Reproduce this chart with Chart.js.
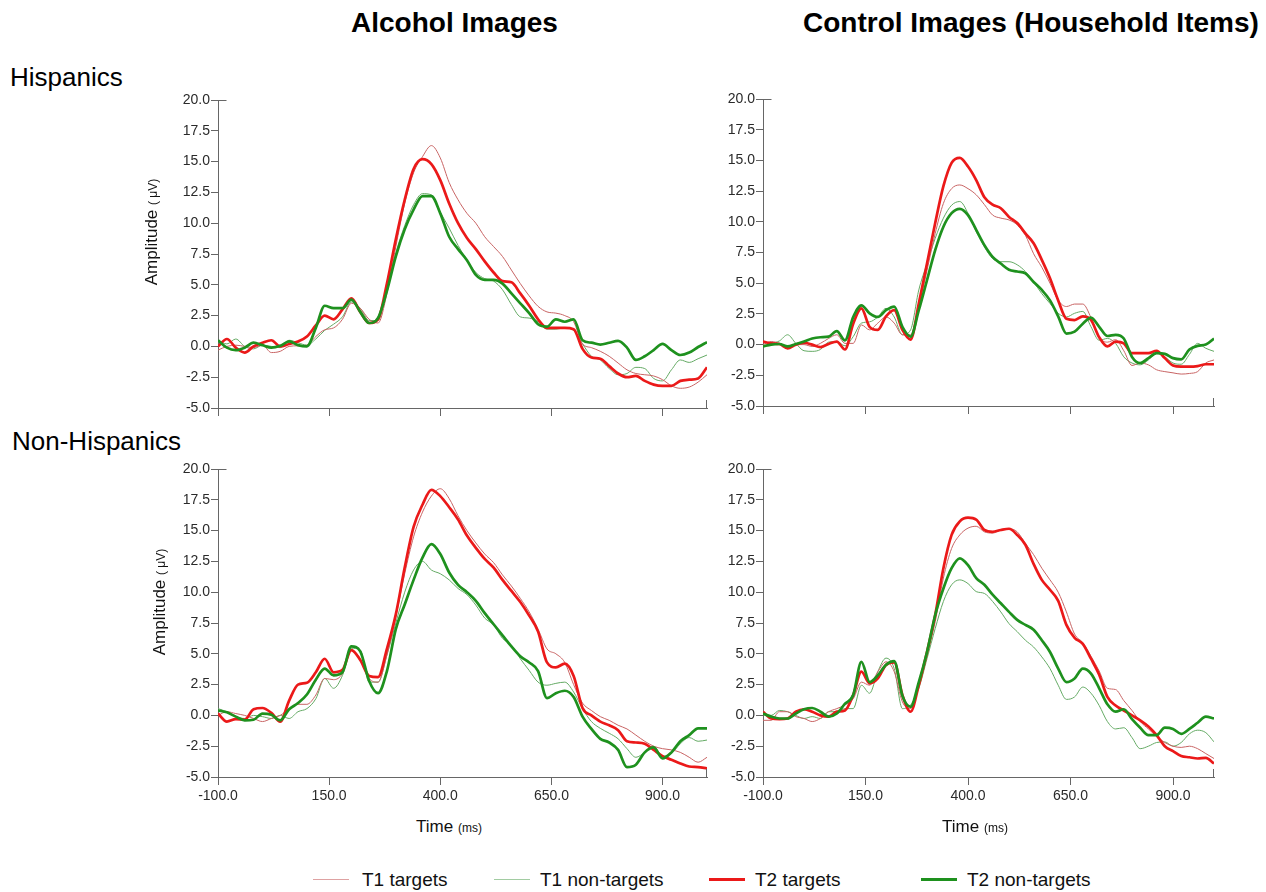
<!DOCTYPE html>
<html>
<head>
<meta charset="utf-8">
<script src="https://cdn.jsdelivr.net/npm/chart.js@4.4.1/dist/chart.umd.min.js"></script>
<style>
  html, body { margin: 0; padding: 0; background: #fff; }
  body { position: relative; width: 1266px; height: 892px; overflow: hidden;
         font-family: "Liberation Sans", Arial, sans-serif; color: #000; }
  .txt { position: absolute; white-space: nowrap; line-height: 1; }
  .title { font-weight: bold; font-size: 28px; }
  .row { font-size: 26px; }
  .ylab { position: absolute; white-space: nowrap; line-height: 1; font-size: 17px; color: #111;
          transform: translate(-50%, -50%) rotate(-90deg); }
  .ylab small, .xlab small { font-size: 12px; }
  .xlab { position: absolute; white-space: nowrap; line-height: 1; font-size: 17px; color: #111;
          transform: translateX(-50%); }
  canvas { position: absolute; }
  .leg { position: absolute; top: 870px; font-size: 19px; line-height: 1; white-space: nowrap; color: #111; }
  .leg i { position: absolute; display: block; width: 36px; }
</style>
</head>
<body>

<div class="txt title" style="left:351px; top:9px;">Alcohol Images</div>
<div class="txt title" style="left:803px; top:9px;">Control Images (Household Items)</div>
<div class="txt row" style="left:10px; top:64px;">Hispanics</div>
<div class="txt row" style="left:12px; top:428px;">Non-Hispanics</div>

<canvas id="cTL" width="583" height="360" style="left:138px; top:88px;"></canvas>
<canvas id="cTR" width="545" height="359" style="left:683px; top:87px;"></canvas>
<canvas id="cBL" width="583" height="360" style="left:138px; top:457px;"></canvas>
<canvas id="cBR" width="545" height="360" style="left:683px; top:457px;"></canvas>

<div class="ylab" style="left:151px; top:232px;">Amplitude <small>( μV)</small></div>
<div class="ylab" style="left:159px; top:602px;">Amplitude <small>( μV)</small></div>
<div class="xlab" style="left:449px; top:818px;">Time <small>(ms)</small></div>
<div class="xlab" style="left:975px; top:818px;">Time <small>(ms)</small></div>

<div class="leg" style="left:313px;"><i style="left:0; top:9px; height:1px; background:rgba(200,100,100,0.6);"></i><span style="margin-left:49px;">T1 targets</span></div>
<div class="leg" style="left:494px;"><i style="left:0; top:9px; height:1px; background:rgba(100,170,100,0.6);"></i><span style="margin-left:46px;">T1 non-targets</span></div>
<div class="leg" style="left:709px;"><i style="left:0; top:8px; height:3px; background:rgb(235,25,25);"></i><span style="margin-left:46px;">T2 targets</span></div>
<div class="leg" style="left:921px;"><i style="left:0; top:8px; height:3px; background:rgb(30,145,30);"></i><span style="margin-left:46px;">T2 non-targets</span></div>

<script>
// Sample times (ms) of the grand-average ERP waveforms
const timeMs = [-100,-80,-60,-40,-20,0,20,40,60,80,
  100,120,140,160,180,200,220,240,260,280,
  300,320,340,360,380,400,420,440,460,480,
  500,520,540,560,580,600,620,640,660,680,
  700,720,740,760,780,800,820,840,860,880,
  900,920,940,960,980,1000];

const xTickValues = [-100, 150, 400, 650, 900];
const yMin = -5, yMax = 20, yStep = 2.5;

const seriesNames = ['T1 targets', 'T1 non-targets', 'T2 targets', 'T2 non-targets'];

// Hispanics, alcohol images (µV)
const hispAlcT1Targets = [-0.3,0.0,0.1,0.0,-0.1,0.1,-0.5,-0.4,0.0,0.05,
  0.1,0.8,1.35,1.5,2.2,3.5,3.1,2.2,1.9,4.3,
  8.1,11.6,14.1,15.4,16.3,15.3,13.3,11.9,10.8,10.0,
  8.9,8.1,7.3,6.2,5.1,4.1,3.25,2.8,2.7,2.5,
  2.0,0.2,-0.1,-0.4,-0.8,-1.35,-1.9,-2.2,-2.3,-2.4,
  -2.7,-3.2,-3.4,-3.3,-2.9,-2.3];
const hispAlcT1NonTargets = [0.5,0.2,0.6,0.0,-0.2,0.1,0.0,-0.1,0.5,0.3,
  0.1,0.6,1.3,1.8,2.4,3.6,3.1,2.1,2.1,4.8,
  7.6,9.8,11.5,12.4,12.3,10.9,9.6,8.2,7.0,6.0,
  5.5,5.3,4.6,3.4,2.4,2.3,2.0,1.4,1.4,1.5,
  1.3,0.2,-0.8,-1.1,-1.8,-2.3,-2.2,-1.7,-1.8,-2.6,
  -2.8,-1.9,-1.1,-1.3,-1.0,-0.7];
const hispAlcT2Targets = [0.0,0.6,-0.1,-0.5,0.0,0.3,0.5,0.0,0.2,0.4,
  0.8,1.7,2.5,2.2,3.0,3.9,2.8,1.9,2.2,5.1,
  8.7,11.9,14.4,15.2,14.8,13.5,11.6,10.0,8.8,7.9,
  6.9,6.0,5.3,5.2,4.3,3.3,2.2,1.5,1.5,1.5,
  1.4,-0.2,-0.9,-1.0,-1.6,-2.2,-2.5,-2.4,-2.8,-3.1,
  -3.2,-3.2,-2.8,-2.7,-2.6,-1.7];
const hispAlcT2NonTargets = [0.5,-0.1,-0.3,-0.1,0.3,0.1,-0.1,0.05,0.4,0.1,
  0.0,1.5,3.3,3.1,3.1,3.8,2.8,1.9,2.3,4.5,
  7.3,9.5,11.1,12.2,12.2,10.8,8.9,7.9,7.0,5.8,
  5.4,5.4,5.1,4.3,3.5,2.7,1.8,1.6,2.2,2.0,
  2.2,0.5,0.3,0.15,0.3,0.45,-0.1,-1.1,-0.8,-0.3,
  0.2,-0.3,-0.7,-0.5,-0.05,0.35];

// Hispanics, control images (household items)
const hispCtrlT1Targets = [0.0,0.25,0.1,-0.15,0.0,0.0,-0.15,0.1,0.5,0.8,
  0.1,0.1,1.6,1.2,1.75,2.25,1.75,0.8,0.8,3.1,
  6.05,9.05,11.5,12.7,13.0,12.7,12.2,11.4,10.55,10.3,
  10.15,9.75,8.9,7.4,6.3,5.0,3.6,3.1,3.3,3.3,
  2.2,0.6,0.2,0.4,-0.5,-1.7,-1.5,-1.65,-2.05,-2.2,
  -2.3,-2.4,-2.35,-2.2,-1.5,-1.25];
const hispCtrlT1NonTargets = [-0.1,0.1,0.3,0.8,0.1,-0.5,-0.55,-0.4,0.2,0.25,
  -0.1,0.65,1.75,1.85,2.25,2.95,2.25,0.8,1.2,4.45,
  6.6,8.65,10.3,11.35,11.65,10.7,9.2,7.95,7.0,6.75,
  6.75,6.5,5.95,5.1,4.15,3.35,2.55,2.25,2.55,2.7,
  1.45,0.35,0.5,0.1,-1.0,-1.5,-1.65,-1.25,-0.7,-1.0,
  -1.5,-1.6,-0.8,0.1,-0.3,-0.55];
const hispCtrlT2Targets = [0.25,0.1,0.05,-0.3,0.0,0.15,0.0,-0.2,0.05,0.25,
  -0.4,1.7,2.95,1.45,1.2,2.3,2.8,1.2,0.4,3.35,
  6.6,9.9,12.9,14.8,15.2,14.5,13.4,12.0,11.4,11.1,
  10.4,9.9,9.05,8.25,6.9,5.4,3.6,2.1,2.0,2.3,
  2.0,0.6,-0.15,0.25,0.1,-0.7,-0.7,-0.7,-0.5,-1.1,
  -1.7,-1.8,-1.8,-1.75,-1.6,-1.6];
const hispCtrlT2NonTargets = [-0.15,0.0,0.05,-0.15,0.05,0.25,0.5,0.6,0.65,1.1,
  0.35,2.25,3.2,2.55,2.25,2.8,3.1,1.45,0.65,2.8,
  5.25,7.7,9.6,10.7,11.05,10.55,9.35,8.1,7.15,6.6,
  6.1,5.95,5.8,5.1,4.45,3.6,2.3,0.9,1.05,1.7,
  2.2,1.45,0.7,0.8,0.5,-1.0,-1.5,-1.1,-0.7,-0.75,
  -1.1,-1.2,-0.4,-0.1,0.0,0.5];

// Non-Hispanics, alcohol images
const nonAlcT1Targets = [0.0,0.3,0.15,0.0,-0.25,-0.5,-0.25,0.0,0.55,0.9,
  0.9,1.65,3.0,2.9,3.4,5.3,4.6,3.0,2.7,4.9,
  8.0,11.5,14.5,16.5,17.8,18.4,17.6,16.2,15.0,14.0,
  13.1,12.4,11.4,10.5,9.5,8.4,7.0,5.4,5.0,4.3,
  2.5,1.0,0.4,-0.1,-0.4,-0.8,-1.1,-1.6,-2.1,-2.5,
  -2.7,-2.8,-3.0,-3.4,-3.8,-3.4];
const nonAlcT1NonTargets = [0.55,0.3,-0.1,-0.25,0.0,-0.1,-0.25,0.0,-0.25,0.3,
  0.55,1.35,3.0,2.2,3.25,5.45,5.3,2.7,2.7,4.9,
  7.5,10.0,11.8,12.5,11.8,11.5,11.0,10.3,9.8,8.95,
  7.9,7.35,6.25,5.7,4.6,3.65,2.7,2.45,2.6,2.7,
  1.9,0.55,-0.5,-1.05,-1.45,-1.9,-2.7,-3.4,-3.0,-2.5,
  -3.3,-3.1,-2.3,-1.8,-2.1,-2.0];
const nonAlcT2Targets = [0.15,-0.5,-0.3,-0.35,0.5,0.6,0.2,-0.5,1.2,2.5,
  2.65,3.5,4.6,3.5,3.7,5.3,4.5,3.2,3.1,5.4,
  8.2,12.0,15.3,17.1,18.3,17.8,16.9,15.9,14.6,13.6,
  12.7,12.0,11.0,10.1,9.2,8.1,6.8,4.3,3.9,4.2,
  3.2,0.6,0.0,-0.5,-0.8,-1.2,-2.1,-2.2,-2.3,-2.8,
  -3.3,-3.6,-3.9,-4.15,-4.2,-4.3];
const nonAlcT2NonTargets = [0.4,0.25,-0.1,-0.4,-0.35,0.15,0.05,-0.4,0.5,1.0,
  1.7,2.9,3.8,3.25,3.5,5.6,5.2,2.8,1.8,3.6,
  7.0,9.0,11.0,12.8,13.9,13.1,11.6,10.6,10.0,9.3,
  8.3,7.4,6.5,5.6,4.8,4.3,3.6,1.4,1.8,2.0,
  1.5,-0.1,-1.1,-1.9,-2.2,-2.8,-4.2,-4.0,-3.0,-2.6,
  -3.5,-3.0,-2.1,-1.6,-1.05,-1.05];

// Non-Hispanics, control images (household items)
const nonCtrlT1Targets = [-0.4,-0.4,0.3,0.3,-0.1,-0.25,-0.5,-0.25,0.3,0.55,
  0.85,1.35,2.7,2.45,3.55,4.35,3.55,1.1,0.55,2.7,
  4.9,7.6,11.15,13.55,14.65,15.2,15.35,14.9,14.8,15.05,
  15.15,14.9,13.95,13.05,11.95,11.0,10.0,8.4,6.6,5.9,
  4.8,3.6,2.2,2.1,1.2,0.4,-0.5,-1.1,-1.7,-2.2,
  -2.5,-2.6,-2.5,-2.7,-3.1,-3.5];
const nonCtrlT1NonTargets = [0.15,0.0,0.4,0.3,0.0,-0.25,-0.1,-0.25,0.3,0.3,
  0.55,0.55,2.45,1.8,3.55,4.65,3.8,0.55,0.85,2.2,
  4.6,7.05,9.25,10.6,11.0,10.7,10.05,9.9,9.25,8.4,
  7.45,6.8,6.1,5.55,4.75,3.8,2.45,1.3,1.5,2.3,
  1.8,0.8,-0.5,-1.1,-1.0,-1.8,-2.7,-2.5,-2.2,-2.15,
  -2.5,-2.2,-1.5,-1.2,-1.4,-2.15];
const nonCtrlT2Targets = [0.3,-0.25,-0.3,-0.25,0.3,0.5,0.3,0.0,-0.1,0.3,
  0.4,1.65,3.55,2.6,3.0,4.1,4.3,1.65,0.3,2.45,
  5.15,8.15,11.95,14.65,15.75,16.05,15.9,15.05,14.9,15.05,
  15.15,14.65,13.85,12.3,11.0,10.2,9.3,7.35,6.3,5.8,
  4.6,3.3,1.5,0.8,0.4,0.0,-0.4,-0.9,-1.6,-2.5,
  -2.9,-3.3,-3.4,-3.5,-3.45,-3.9];
const nonCtrlT2NonTargets = [0.15,-0.1,-0.25,-0.25,0.15,0.5,0.6,0.3,-0.1,0.15,
  0.95,1.65,4.35,2.7,3.25,4.1,4.4,1.6,0.7,2.7,
  5.15,8.15,10.3,11.95,12.75,12.2,11.15,10.6,9.8,9.1,
  8.4,7.75,7.35,6.95,6.1,5.15,3.8,2.7,3.0,3.8,
  3.4,2.2,0.9,0.3,0.5,-0.3,-1.0,-1.6,-1.6,-1.0,
  -1.1,-1.5,-1.1,-0.6,-0.1,-0.25];

// Line styles per condition
const lineStyles = [
  { color: 'rgb(200,100,100)', width: 1,   order: 3 },
  { color: 'rgb(100,170,100)', width: 1,   order: 4 },
  { color: 'rgb(235,25,25)',   width: 2.7, order: 2 },
  { color: 'rgb(30,145,30)',   width: 2.7, order: 1 }
];

const axisColor = '#666';
const tickColor = '#2a2a2a';
Chart.defaults.font.family = '"Liberation Sans", Arial, sans-serif';

// Extra axis marks: the top y tick crosses the axis, and the time axis ends with an upward tick
const axisExtras = {
  id: 'axisExtras',
  afterDraw(chart) {
    const { ctx, chartArea: a } = chart;
    const yTop = Math.round(chart.scales.y.getPixelForValue(yMax)) + 0.5;
    const xLeft = Math.round(a.left) + 0.5;
    const xEnd = Math.round(a.right) - 0.5;
    const yBottom = Math.round(a.bottom);
    ctx.save();
    ctx.strokeStyle = axisColor;
    ctx.lineWidth = 1;
    ctx.beginPath();
    ctx.moveTo(xLeft, yTop); ctx.lineTo(xLeft + 8, yTop);
    ctx.moveTo(xEnd, yBottom); ctx.lineTo(xEnd, yBottom - 8);
    ctx.stroke();
    ctx.restore();
  }
};

function makePanel(canvasId, seriesList, showTimeLabels) {
  const datasets = seriesList.map((vals, i) => ({
    label: seriesNames[i],
    data: timeMs.map((t, k) => ({ x: t, y: vals[k] })),
    borderColor: lineStyles[i].color,
    borderWidth: lineStyles[i].width,
    order: lineStyles[i].order,
    pointRadius: 0,
    fill: false,
    cubicInterpolationMode: 'monotone'
  }));
  return new Chart(document.getElementById(canvasId), {
    type: 'line',
    data: { datasets },
    plugins: [axisExtras],
    options: {
      responsive: false,
      devicePixelRatio: 1,
      animation: false,
      events: [],
      layout: { padding: { left: 0, right: 14, top: 12, bottom: 0 } },
      plugins: { legend: { display: false }, tooltip: { enabled: false } },
      scales: {
        x: {
          type: 'linear',
          min: -100, max: 1000,
          afterBuildTicks: s => { s.ticks = xTickValues.map(v => ({ value: v })); },
          afterFit: s => { s.height = 40; },
          border: { display: true, color: axisColor, width: 1 },
          grid: { drawOnChartArea: false, drawTicks: true, tickLength: 8, color: axisColor },
          ticks: {
            display: showTimeLabels,
            padding: 3,
            color: tickColor,
            font: { size: 14 },
            maxRotation: 0,
            callback: v => v.toFixed(1)
          }
        },
        y: {
          min: yMin, max: yMax,
          afterBuildTicks: s => {
            const t = [];
            for (let v = yMin; v <= yMax + 1e-9; v += yStep) t.push({ value: v });
            s.ticks = t;
          },
          afterFit: s => { s.width = 80; },
          border: { display: true, color: axisColor, width: 1 },
          grid: { drawOnChartArea: false, drawTicks: true, tickLength: 7, color: axisColor },
          ticks: {
            padding: 1,
            color: tickColor,
            font: { size: 14 },
            callback: v => Number(v).toFixed(1)
          }
        }
      }
    }
  });
}

makePanel('cTL', [hispAlcT1Targets, hispAlcT1NonTargets, hispAlcT2Targets, hispAlcT2NonTargets], false);
makePanel('cTR', [hispCtrlT1Targets, hispCtrlT1NonTargets, hispCtrlT2Targets, hispCtrlT2NonTargets], false);
makePanel('cBL', [nonAlcT1Targets, nonAlcT1NonTargets, nonAlcT2Targets, nonAlcT2NonTargets], true);
makePanel('cBR', [nonCtrlT1Targets, nonCtrlT1NonTargets, nonCtrlT2Targets, nonCtrlT2NonTargets], true);
</script>
</body>
</html>
